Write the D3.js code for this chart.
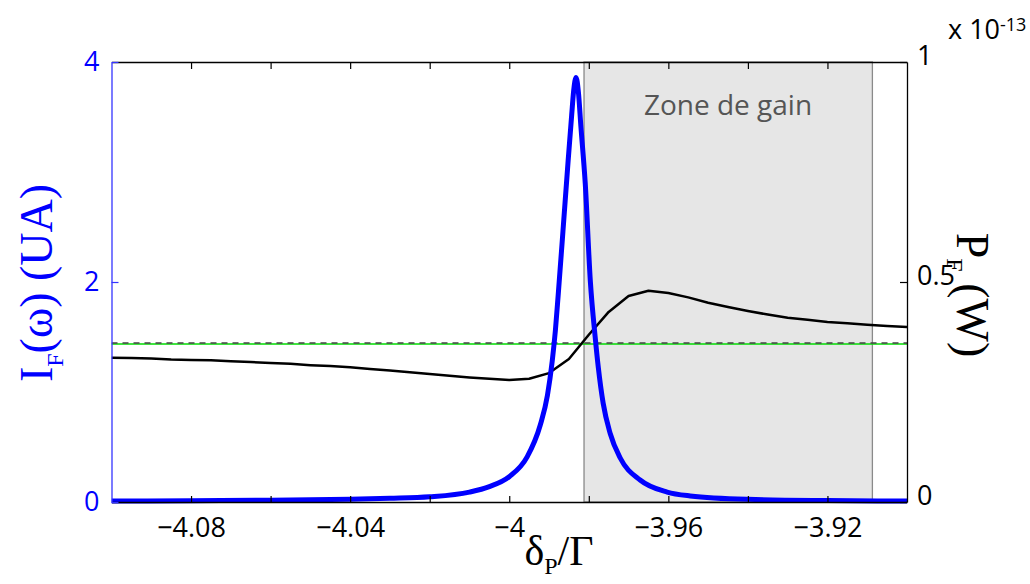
<!DOCTYPE html>
<html><head><meta charset="utf-8">
<script src="https://cdn.jsdelivr.net/npm/d3@7"></script>
<style>body{margin:0;background:#fff}svg{display:block}</style>
</head><body>
<svg id="c" width="1030" height="584"></svg>
<script>
// ---- data ----
const blueX = [-4.1,-4.08,-4.06,-4.04,-4.03,-4.02,-4.01,-4.005,-4.0,-3.9955,-3.9922,-3.9904,-3.9892,-3.9884,-3.9877,-3.9865,-3.9852,-3.9843,-3.9838,-3.9832,-3.9826,-3.982,-3.9809,-3.9796,-3.9784,-3.9776,-3.9764,-3.9746,-3.9721,-3.9671,-3.9603,-3.9545,-3.94,-3.92,-3.9];
const blueY = [0.008,0.011,0.016,0.025,0.033,0.047,0.09,0.14,0.23,0.41,0.70,0.97,1.28,1.56,1.88,2.46,3.10,3.52,3.74,3.86,3.72,3.42,2.90,2.00,1.50,1.22,0.90,0.62,0.40,0.20,0.09,0.055,0.024,0.013,0.009];
const blackX = [-4.1,-4.095,-4.09,-4.085,-4.08,-4.075,-4.07,-4.065,-4.06,-4.055,-4.05,-4.045,-4.04,-4.035,-4.03,-4.025,-4.02,-4.015,-4.01,-4.005,-4.0,-3.995,-3.99,-3.985,-3.98,-3.975,-3.97,-3.965,-3.96,-3.955,-3.95,-3.945,-3.94,-3.935,-3.93,-3.925,-3.92,-3.915,-3.91,-3.905,-3.9];
const blackY = [0.328,0.327,0.326,0.324,0.323,0.322,0.320,0.318,0.316,0.314,0.311,0.309,0.306,0.302,0.299,0.295,0.291,0.287,0.283,0.280,0.277,0.280,0.293,0.325,0.380,0.432,0.468,0.480,0.475,0.465,0.453,0.443,0.434,0.426,0.419,0.414,0.409,0.406,0.403,0.400,0.398];
const greenLevel = 1.437;
const dashedLevel = 1.445;
const gainZone = [-3.9812, -3.9087];
const gainLabel = "Zone de gain";
const xTicks = [-4.08,-4.06,-4.04,-4.02,-4.0,-3.98,-3.96,-3.94,-3.92];
const xTickLabels = ["\u22124.08","","\u22124.04","","\u22124","","\u22123.96","","\u22123.92"];
const yLeftTicks = [0,2,4];
const yLeftLabels = ["0","2","4"];
const yRightTicks = [0,0.5,1];
const yRightLabels = ["0","0.5","1"];

// ---- chart ----
const svg = d3.select("#c");
const L=111.5, R=907, T=62, B=502;
const x = d3.scaleLinear().domain([-4.1,-3.9]).range([L,R]);
const yL = d3.scaleLinear().domain([0,4]).range([B,T]);
const yR = d3.scaleLinear().domain([0,1]).range([B,T]);
const tickFont = "'Open Sans', 'DejaVu Sans', sans-serif";
const serif = "'Liberation Serif', 'DejaVu Serif', serif";

svg.append("defs").append("clipPath").attr("id","clip")
  .append("rect").attr("x",L).attr("y",T-5).attr("width",R-L).attr("height",B-T+10);

// gain zone
svg.append("rect")
  .attr("x", x(gainZone[0])).attr("y", T)
  .attr("width", x(gainZone[1]) - x(gainZone[0])).attr("height", B - T)
  .attr("fill", "#e6e6e6").attr("stroke", "#8a8a8a").attr("stroke-width", 1.3);

const g = svg.append("g").attr("clip-path","url(#clip)");
g.append("line").attr("x1",L).attr("x2",R).attr("y1",yL(greenLevel)).attr("y2",yL(greenLevel))
  .attr("stroke","#00dd00").attr("stroke-width",1.6);
g.append("line").attr("x1",L).attr("x2",R).attr("y1",yL(dashedLevel)).attr("y2",yL(dashedLevel))
  .attr("stroke","#444").attr("stroke-width",1.5).attr("stroke-dasharray","6,5");

const blackData = blackX.map((d,i)=>[d, blackY[i]]);
g.append("path").datum(blackData)
  .attr("fill","none").attr("stroke","#000").attr("stroke-width",2.5).attr("stroke-linejoin","round")
  .attr("d", d3.line().x(d=>x(d[0])).y(d=>yR(d[1])));

const blueData = blueX.map((d,i)=>[d, blueY[i]]);
g.append("path").datum(blueData)
  .attr("fill","none").attr("stroke","#0000ff").attr("stroke-width",5).attr("stroke-linejoin","round")
  .attr("d", d3.line().curve(d3.curveMonotoneX).x(d=>x(d[0])).y(d=>yL(d[1])));

// axes
const axB = svg.append("g").attr("transform",`translate(0,${B})`)
  .call(d3.axisBottom(x).tickValues(xTicks).tickSizeInner(-6).tickSizeOuter(0).tickPadding(16)
    .tickFormat((d,i)=>xTickLabels[i]));
const axT = svg.append("g").attr("transform",`translate(0,${T})`)
  .call(d3.axisTop(x).tickValues(xTicks).tickSizeInner(-7).tickSizeOuter(0).tickFormat(""));
const axL = svg.append("g").attr("transform",`translate(${L},0)`)
  .call(d3.axisLeft(yL).tickValues(yLeftTicks).tickSizeInner(-7).tickSizeOuter(0).tickPadding(12)
    .tickFormat((d,i)=>yLeftLabels[i]));
const axR = svg.append("g").attr("transform",`translate(${R},0)`)
  .call(d3.axisRight(yR).tickValues(yRightTicks).tickSizeInner(-7).tickSizeOuter(0).tickPadding(10)
    .tickFormat((d,i)=>yRightLabels[i]));

[axB,axT,axL,axR].forEach(a=>{
  a.selectAll("text").attr("font-family",tickFont).attr("font-size",27);
  a.selectAll("path.domain").attr("stroke-width",1.3);
  a.selectAll(".tick line").attr("stroke-width",1.2);
});
axB.selectAll("text").attr("fill","#000");
axL.select("path.domain").attr("stroke","#3333ff");
axL.selectAll(".tick line").attr("stroke","#3333ff");
axL.selectAll("text").attr("fill","#0000ff");
axR.selectAll("text").attr("fill","#000").attr("dy",2);

// exponent
const ex = svg.append("text").attr("x",948).attr("y",39).attr("font-family",tickFont).attr("font-size",27).attr("fill","#000");
ex.append("tspan").text("x 10");
ex.append("tspan").attr("font-size",18).attr("dy",-8).text("-13");

// zone label
svg.append("text").attr("x",728).attr("y",115).attr("text-anchor","middle")
  .attr("font-family",tickFont).attr("font-size",28).attr("fill","#555").text(gainLabel);

// left label
const ll = svg.append("text").attr("transform","translate(52,283) rotate(-90)")
  .attr("text-anchor","middle").attr("font-family",serif).attr("font-size",46).attr("fill","#0000ff");
ll.append("tspan").text("I");
ll.append("tspan").attr("font-size",24).attr("dy",11).text("F");
ll.append("tspan").attr("dy",-11).text("(\u03c9) (UA)");

// right label
const rl = svg.append("text").attr("transform","translate(957,295) rotate(90)")
  .attr("text-anchor","middle").attr("font-family",serif).attr("font-size",46).attr("fill","#000");
rl.append("tspan").text("P");
rl.append("tspan").attr("font-size",24).attr("dy",10).text("F");
rl.append("tspan").attr("dy",-10).text(" (W)");

// bottom label
const bl = svg.append("text").attr("x",559).attr("y",565).attr("text-anchor","middle")
  .attr("font-family",serif).attr("font-size",42).attr("fill","#000");
bl.append("tspan").text("\u03b4");
bl.append("tspan").attr("font-size",24).attr("dy",9).text("P");
bl.append("tspan").attr("dy",-9).text("/\u0393");
</script>
</body></html>
